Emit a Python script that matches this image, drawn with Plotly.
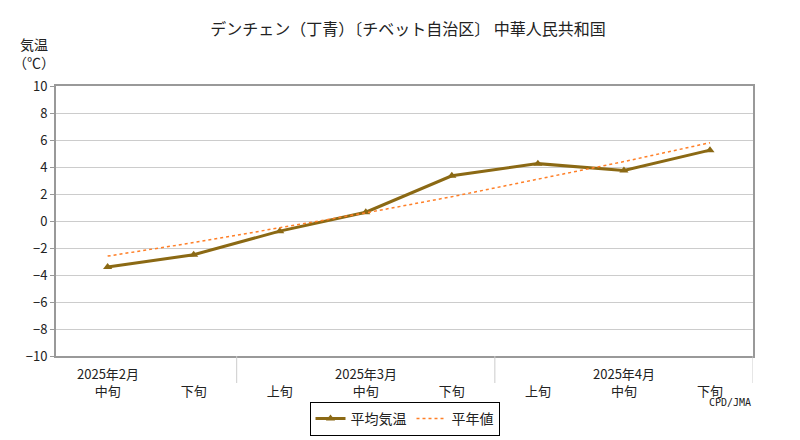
import plotly.graph_objects as go

x = list(range(8))
dekads = ["中旬", "下旬", "上旬", "中旬", "下旬", "上旬", "中旬", "下旬"]
months = ["2025年2月", "2025年3月", "2025年4月"]
month_pos = [0, 3, 6]
temp = [-3.4, -2.5, -0.75, 0.65, 3.35, 4.25, 3.75, 5.25]
normal = [-2.6, -1.6, -0.5, 0.6, 1.8, 3.1, 4.4, 5.8]
yticks = list(range(-10, 11, 2))

F = "Noto Sans CJK JP"
fig = go.Figure()
fig.add_trace(go.Scatter(x=x, y=temp, name="平均気温", mode="lines+markers",
                         line=dict(color="#8B6914", width=3),
                         marker=dict(symbol="triangle-up", size=8, color="#8B6914")))
fig.add_trace(go.Scatter(x=x, y=normal, name="平年値", mode="lines",
                         line=dict(color="#FF7F27", width=1.5, dash="dot")))

for m, p in zip(months, month_pos):
    fig.add_annotation(x=p, y=-10, yref="y", text=m, showarrow=False, yshift=-17,
                       font=dict(size=13, color="#222"))
for b in [1.5, 4.5, 7.5]:
    fig.add_shape(type="line", xref="x", yref="paper", x0=b, x1=b, y0=0, y1=-0.1,
                  line=dict(color="#ccc", width=1))

fig.add_annotation(xref="paper", yref="paper", x=-0.065, y=1.2, xanchor="left", yanchor="top",
                   text="気温<br>（℃）", showarrow=False, align="center",
                   font=dict(size=14, color="#222"))
fig.add_annotation(xref="paper", yref="paper", x=1.0, y=-0.2, xanchor="right",
                   text="CPD/JMA", showarrow=False, font=dict(size=10, color="#222", family="DejaVu Sans Mono"))

fig.update_layout(
    width=800, height=440, plot_bgcolor="white", paper_bgcolor="white",
    margin=dict(l=48, r=55, t=78, b=62),
    font=dict(family=F, size=13, color="#222"),
    title=dict(text="デンチェン（丁青）〔チベット自治区〕 中華人民共和国", x=0.5, y=0.965,
               font=dict(size=16)),
    xaxis=dict(range=[-0.6, 7.5], tickvals=x, ticktext=dekads, showgrid=False,
               showline=True, linecolor="#999", linewidth=2, mirror=True, ticks="",
               ticklabelstandoff=22, zeroline=False),
    yaxis=dict(range=[-10, 10], tickvals=yticks, showgrid=True, gridcolor="#ccc",
               showline=True, linecolor="#999", linewidth=2, mirror=True,
               ticks="outside", ticklen=4, tickcolor="#999", zeroline=False),
    legend=dict(orientation="h", x=0.5, xanchor="center", y=-0.17, yanchor="top",
                bordercolor="#000", borderwidth=1, font=dict(size=14)),
)
fig.write_html("out.html")
